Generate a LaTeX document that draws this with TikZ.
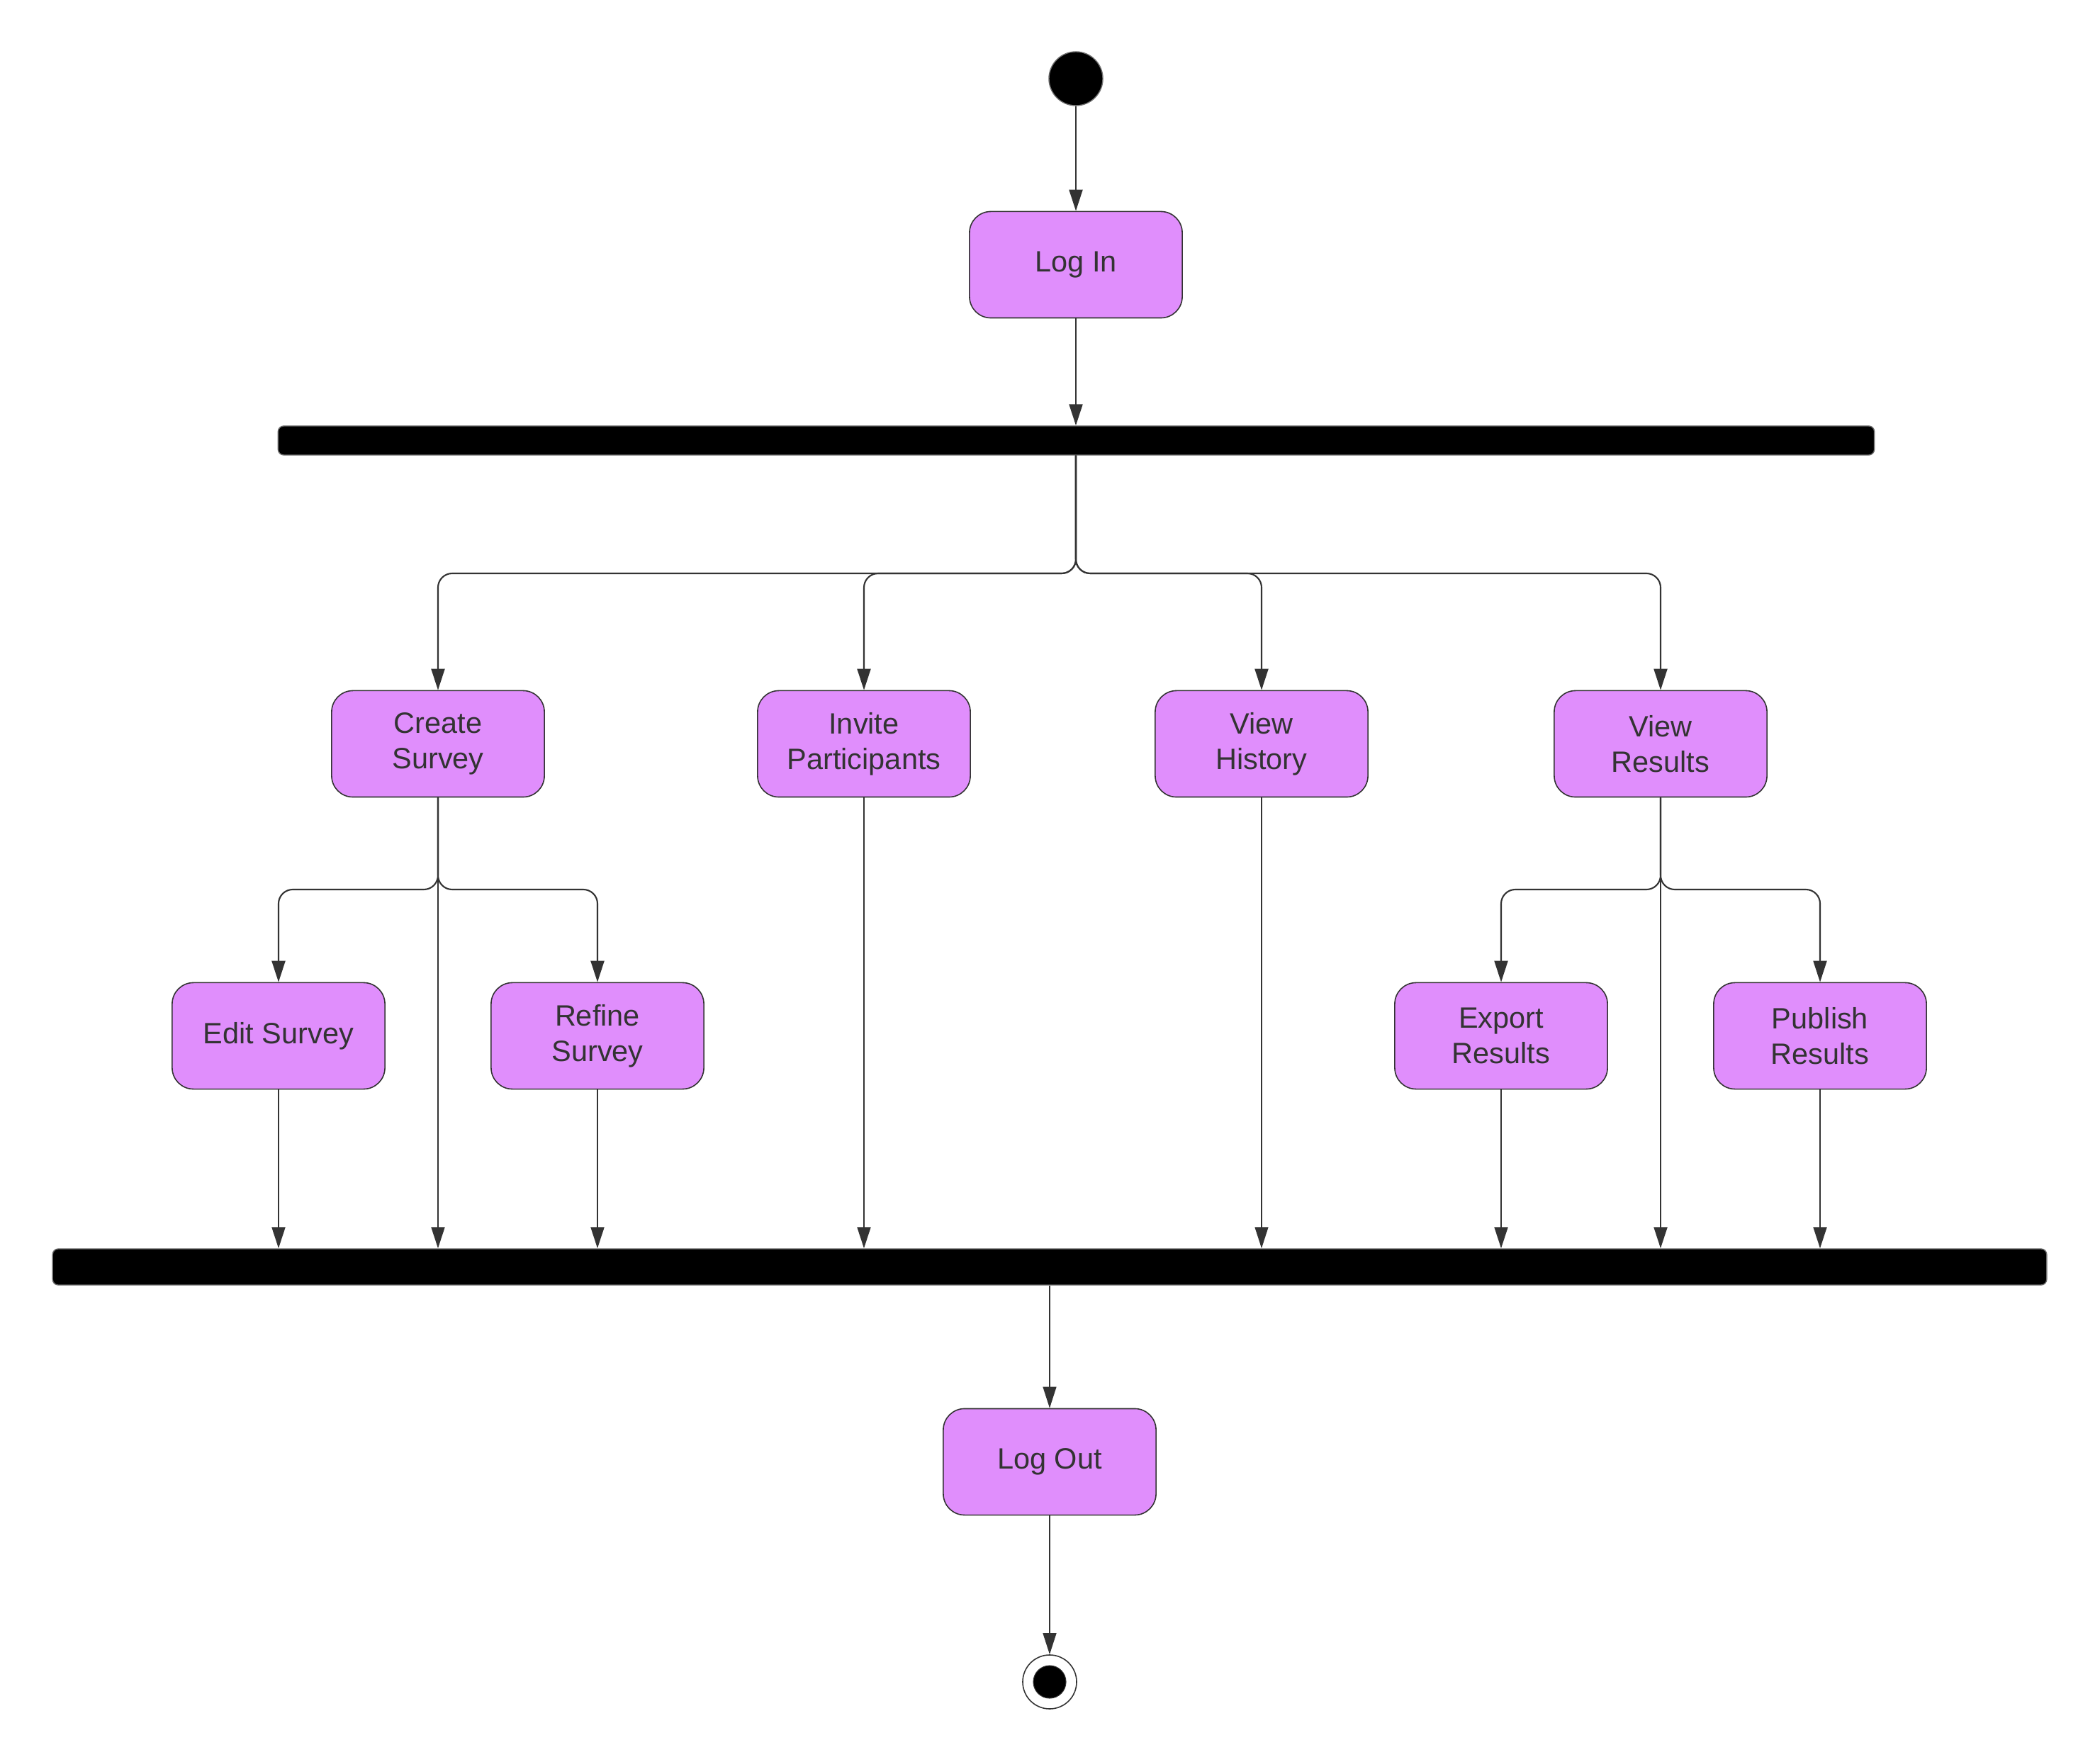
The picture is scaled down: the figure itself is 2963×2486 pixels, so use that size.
\documentclass[tikz,border=0pt]{standalone}
\usepackage{fontspec}
\setmainfont{Liberation Sans}
\usetikzlibrary{arrows.meta}
\definecolor{boxfill}{HTML}{E08EFC}
\definecolor{ink}{HTML}{333333}
\begin{document}
\begin{tikzpicture}[x={(0.01cm,0)},y={(0,-0.01cm)},
  act/.style={draw=ink, line width=0.45pt, fill=boxfill, rounded corners=0.3cm,
    minimum width=3cm, minimum height=1.5cm, inner sep=0pt, align=center,
    text=ink, font=\fontsize{11.8}{14.2}\selectfont},
  bar/.style={draw=ink!70, line width=0.4pt, fill=black, rounded corners=0.08cm, inner sep=0pt},
  arr/.style={draw=ink, line width=0.6pt, -{Triangle[length=0.3cm,width=0.19cm]}, rounded corners=0.2cm},
  thinarr/.style={arr, line width=0.35pt}
]
\useasboundingbox (0,0) rectangle (2963,2486);
% nodes
\node[circle, fill=black, draw=ink!70, line width=0.4pt, minimum size=0.76cm, inner sep=0pt] (start) at (1518,111) {};
\node[act] (login) at (1518,373.5) {Log In};
\node[bar, minimum width=22.51cm, minimum height=0.41cm] (fork) at (1518.5,621.5) {};
\node[act] (cs) at (618,1049.5) {Create\\Survey};
\node[act] (ip) at (1219,1049.5) {Invite\\Participants};
\node[act] (vh) at (1780,1049.5) {View\\History};
\node[act] (vr) at (2343,1049.5) {View\\Results};
\node[act] (es) at (393,1461.5) {Edit Survey};
\node[act] (rs) at (843,1461.5) {Refine\\Survey};
\node[act] (er) at (2118,1461.5) {Export\\Results};
\node[act] (pr) at (2568,1461.5) {Publish\\Results};
\node[bar, minimum width=28.12cm, minimum height=0.51cm] (join) at (1481,1787.5) {};
\node[act] (logout) at (1481,2062.5) {Log Out};
\node[circle, draw=ink, line width=0.45pt, fill=white, minimum size=0.76cm, inner sep=0pt] (end) at (1481,2373) {};
\node[circle, fill=black, draw=ink, line width=0.3pt, minimum size=0.46cm, inner sep=0pt] (endin) at (end) {};
% connectors
\draw[arr] (start) -- (login);
\draw[arr] (login.south) -- (login.south |- fork.north);
\coordinate (fk) at (fork.south -| login.south);
\draw[arr] (fk) -- (1518,809) -| (cs.north);
\draw[arr] (fk) -- (1518,809) -| (ip.north);
\draw[arr] (fk) -- (1518,809) -| (vh.north);
\draw[arr] (fk) -- (1518,809) -| (vr.north);
\draw[arr] (cs.south) -- (618,1255) -| (es.north);
\draw[arr] (cs.south) -- (618,1255) -| (rs.north);
\draw[arr] (vr.south) -- (2343,1255) -| (er.north);
\draw[arr] (vr.south) -- (2343,1255) -| (pr.north);
\draw[arr] (es.south) -- (es.south |- join.north);
\draw[arr] (cs.south) -- (cs.south |- join.north);
\draw[arr] (rs.south) -- (rs.south |- join.north);
\draw[arr] (ip.south) -- (ip.south |- join.north);
\draw[thinarr] (vh.south) -- (vh.south |- join.north);
\draw[arr] (er.south) -- (er.south |- join.north);
\draw[arr] (vr.south) -- (vr.south |- join.north);
\draw[arr] (pr.south) -- (pr.south |- join.north);
\draw[thinarr] (join.south -| logout.north) -- (logout.north);
\draw[thinarr] (logout.south) -- (end.north);
\end{tikzpicture}
\end{document}
